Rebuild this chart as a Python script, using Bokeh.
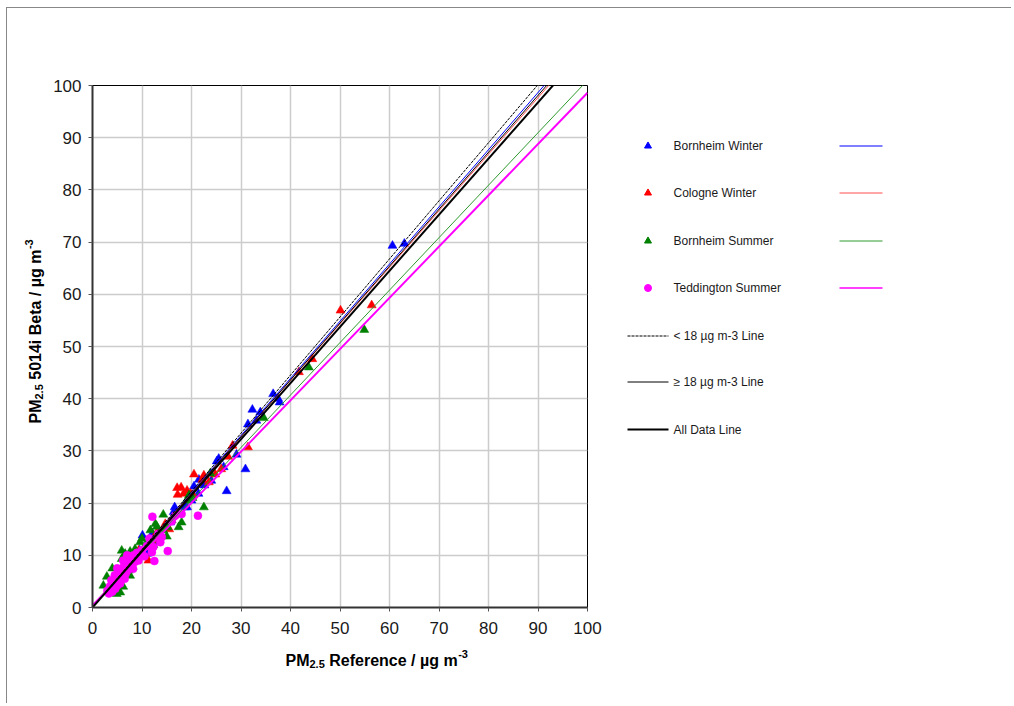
import math
from bokeh.plotting import figure
from bokeh.models import Range1d, FixedTicker
from bokeh.layouts import row, column
from bokeh.embed import file_html
from bokeh.resources import INLINE
from bokeh.core.properties import value

FONT = "Liberation Sans"

# ---------------- data ----------------
series_names = ["Bornheim Winter", "Cologne Winter", "Bornheim Summer", "Teddington Summer"]
series_colors = ["#0000ff", "#ff0000", "#008000", "#ff00ff"]
line_colors = ["#0000ff", "#ff4c4c", "#2e9a2e", "#ff00ff"]
series_markers = ["triangle", "triangle", "triangle", "circle"]

# Bornheim Winter
bw_x = [60.6, 63.0, 36.5, 37.5, 37.8, 32.3, 33.9, 33.1, 31.4, 25.5, 25.1, 29.1, 26.5, 30.9,
        27.1, 21.5, 22.6, 20.5, 19.8, 16.6, 19.1, 21.4, 10.1, 11.0, 12.1, 15.7, 16.4, 18.7,
        12.5, 13.5, 9.5, 24.0, 20.0]
bw_y = [69.3, 69.7, 40.9, 40.0, 39.3, 37.9, 37.4, 35.8, 35.1, 28.5, 28.0, 29.3, 26.9, 26.5,
        22.3, 24.5, 23.4, 23.2, 21.1, 19.2, 19.2, 21.8, 13.8, 10.3, 14.2, 16.3, 18.3, 19.2,
        12.5, 13.0, 11.0, 24.3, 20.5]

# Cologne Winter
cw_x = [50.1, 56.4, 44.4, 41.7, 28.3, 31.4, 27.4, 20.5, 22.5, 24.8, 22.2, 17.1, 17.9, 17.2,
        19.1, 19.8, 20.3, 18.4, 9.3, 11.3, 13.0, 13.3, 14.7, 15.5, 12.0, 23.5, 26.0]
cw_y = [56.9, 57.9, 47.6, 45.1, 31.0, 30.7, 28.9, 25.5, 25.3, 25.5, 24.5, 22.9, 23.0, 21.6,
        22.4, 21.8, 21.5, 21.8, 10.9, 9.0, 14.4, 13.2, 16.0, 15.0, 12.8, 24.0, 26.5]

# Bornheim Summer
bs_x = [54.9, 43.7, 34.6, 23.8, 19.5, 22.5, 14.3, 17.4, 18.0, 16.0, 15.2, 12.7, 11.7, 13.7,
        15.0, 14.3, 10.0, 9.6, 11.0, 8.6, 5.9, 6.6, 7.6, 5.9, 6.6, 2.9, 2.2, 7.3, 7.6, 5.6,
        4.9, 5.9, 8.1, 9.0, 12.3, 10.5, 13.0, 4.0, 6.2, 19.0, 20.2]
bs_y = [53.2, 46.0, 36.3, 25.7, 21.5, 19.2, 17.8, 15.4, 16.3, 16.7, 15.4, 16.0, 14.8, 14.1,
        13.6, 14.8, 13.2, 12.5, 12.5, 11.2, 10.9, 10.3, 10.7, 9.3, 8.4, 5.9, 4.2, 7.1, 6.1, 2.9,
        2.6, 5.8, 7.7, 9.6, 12.0, 11.5, 15.5, 7.5, 4.0, 20.5, 21.0]

# Teddington Summer
ts_x = [12.1, 21.3, 18.0, 16.7, 13.3, 11.5, 13.7, 15.2, 12.0, 12.5, 3.0, 3.5, 4.0, 4.2, 4.8,
        5.0, 5.2, 5.5, 5.8, 6.0, 6.3, 6.5, 6.8, 7.0, 7.3, 7.5, 7.8, 8.0, 8.3, 8.5, 8.8, 9.0,
        9.3, 9.5, 4.5, 3.8, 5.0, 6.2, 7.0, 4.6, 5.6, 3.3, 10.0, 11.0, 10.5, 12.3, 14.0, 16.0,
        6.7, 8.2]
ts_y = [17.4, 17.6, 17.9, 17.6, 14.1, 13.2, 12.5, 10.8, 10.6, 8.9, 3.2, 4.0, 3.0, 4.8, 5.5,
        4.2, 6.5, 5.0, 7.2, 6.0, 7.8, 5.5, 8.2, 7.0, 8.8, 9.5, 8.0, 9.2, 10.0, 8.7, 9.8, 10.5,
        9.0, 10.2, 6.2, 5.2, 7.5, 9.0, 10.0, 3.6, 4.6, 2.7, 11.0, 11.8, 9.8, 11.6, 13.5, 16.5,
        6.5, 7.4]

series_x = [bw_x, cw_x, bs_x, ts_x]
series_y = [bw_y, cw_y, bs_y, ts_y]

# regression lines per series (slope, intercept)
fit_slope = [1.095, 1.083, 1.005, 0.982]
fit_icpt = [0.1, 0.2, 0.5, 0.4]

# reference lines
ref_names = ["< 18 \u00b5g m-3 Line", "\u2265 18 \u00b5g m-3 Line", "All Data Line"]
ref_slope = [1.113, 1.09, 1.075]
ref_icpt = [0.0, 0.0, 0.0]
ref_dash = ["3 1", "solid", "solid"]
ref_width = [1, 1, 2]

x_ticks = list(range(0, 101, 10))
y_ticks = list(range(0, 101, 10))

# axis titles: (text, gap before it in em of the base font)
x_label_parts = ["PM", "2.5", "Reference / \u00b5g m", "-3"]
y_label_parts = ["PM", "2.5", "5014i Beta / \u00b5g m", "-3"]
label_gaps = [0, 0, 0.278, 0]

# ---------------- layout constants (page pixels) ----------------
LEFT0, TOP0 = 7, 8          # content origin inside the border
YLAB_W = 40
MAIN_W = 560
LEG_W = 404
TOP_B, BOT_B = 77, 36
ROW_H = 635
XLAB_H = 60
FR_TOP = TOP0 + TOP_B               # 85
FR_BOT = TOP0 + ROW_H - BOT_B       # 607


def bold_w(s, size):
    w = {"P": .667, "M": .833, "2": .556, ".": .278, "5": .556, " ": .278, "R": .722, "e": .556,
         "f": .333, "r": .389, "n": .611, "c": .556, "/": .278, "\u00b5": .611, "g": .611,
         "m": .889, "-": .333, "3": .556, "0": .556, "1": .556, "4": .556, "i": .278, "B": .722,
         "t": .333, "a": .556}
    return sum(w.get(ch, .556) for ch in s) * size


def blank(width, height, x0, x1, y0, y1, **kw):
    f = figure(width=width, height=height, x_range=Range1d(x0, x1), y_range=Range1d(-y1, -y0),
               output_backend="svg", toolbar_location=None, x_axis_type=None, y_axis_type=None,
               **kw)
    f.grid.visible = False
    f.outline_line_color = None
    f.background_fill_color = "white"
    f.border_fill_color = "white"
    return f


# ---------------- main figure ----------------
p = figure(width=MAIN_W, height=ROW_H, x_range=Range1d(0, 100), y_range=Range1d(0, 100),
           output_backend="svg", toolbar_location=None,
           min_border_left=45, min_border_right=20, min_border_top=TOP_B, min_border_bottom=BOT_B)
p.background_fill_color = "white"
p.border_fill_color = "white"
p.outline_line_color = "black"
p.outline_line_width = 1

for ax, ticks in ((p.xaxis, x_ticks), (p.yaxis, y_ticks)):
    ax.ticker = FixedTicker(ticks=ticks)
    ax.minor_tick_line_color = None
    ax.major_tick_in = 0
    ax.major_tick_out = 4
    ax.axis_line_color = "#333333"
    ax.axis_line_width = 2
    ax.major_tick_line_color = "#555555"
    ax.major_label_text_font = FONT
    ax.major_label_text_font_size = "17px"
    ax.major_label_text_color = "#1a1a1a"
p.xaxis.major_label_standoff = 10
p.yaxis.major_label_standoff = 7

p.grid.grid_line_color = "#cccccc"
p.grid.grid_line_width = 1.5

for xs, ys, c, m in zip(series_x, series_y, series_colors, series_markers):
    p.scatter(xs, ys, marker=m, size=(9 if m == "triangle" else 8),
              fill_color=c, line_color=c, line_width=0.5)

for m_, b_, c in zip(fit_slope, fit_icpt, line_colors):
    p.line([0, 100], [b_, m_ * 100 + b_], line_color=c,
           line_width=(2 if c == "#ff00ff" else 1))

for m_, b_, d, w in zip(ref_slope, ref_icpt, ref_dash, ref_width):
    p.line([0, 100], [b_, m_ * 100 + b_], line_color="black", line_width=w, line_dash=d)

sizes = [16, 11, 16, 11]
shifts = [0, 3.5, 0, -6.5]

# ---------------- y-axis title figure ----------------
ylab = blank(YLAB_W, ROW_H, LEFT0, LEFT0 + YLAB_W, FR_TOP, FR_BOT,
             min_border_left=0, min_border_right=0, min_border_top=TOP_B, min_border_bottom=BOT_B)
cy = 423
basex = 35
for part, sz, sh, gap in zip(y_label_parts, sizes, shifts, label_gaps):
    cy -= gap * sz
    ylab.text([basex + sh], [-cy], text=[part], angle=math.pi / 2, text_font=value(FONT),
              text_font_size=f"{sz}px", text_font_style="bold", text_color="#000000",
              text_baseline="alphabetic", text_align="left")
    cy -= bold_w(part, sz)

# ---------------- legend figure ----------------
LX0 = LEFT0 + YLAB_W + MAIN_W
leg = blank(LEG_W, ROW_H, LX0, LX0 + LEG_W, FR_TOP, FR_BOT,
            min_border_left=0, min_border_right=0, min_border_top=TOP_B, min_border_bottom=BOT_B)

row_y = [145.5, 192.5, 240.5, 287.5]
for yy, name, c, lc, m in zip(row_y, series_names, series_colors, line_colors, series_markers):
    leg.scatter([647.5], [-yy], marker=m, size=7, fill_color=c, line_color=c)
    leg.text([673], [-yy], text=[name], text_font=value(FONT), text_font_size="12px",
             text_baseline="middle", text_color="#1a1a1a")
    leg.line([839, 882], [-yy, -yy], line_color=lc, line_width=(1.5 if c == "#ff00ff" else 1))

ref_y = [335.5, 381.5, 429]
for yy, name, d, w in zip(ref_y, ref_names, ref_dash, ref_width):
    leg.line([627, 668], [-yy, -yy], line_color="black", line_width=w, line_dash=d)
    leg.text([673], [-yy], text=[name], text_font=value(FONT), text_font_size="12px",
             text_baseline="middle", text_color="#1a1a1a")

# ---------------- x-axis title figure ----------------
XT = TOP0 + ROW_H
TOTAL_W = YLAB_W + MAIN_W + LEG_W
xlab = blank(TOTAL_W, XLAB_H, LEFT0, LEFT0 + TOTAL_W, XT, XT + XLAB_H, min_border=0)
cx = 285
base = 660
for part, sz, sh, gap in zip(x_label_parts, sizes, shifts, label_gaps):
    cx += gap * sz
    xlab.text([cx], [-(base + sh)], text=[part], text_font=value(FONT),
              text_font_size=f"{sz}px", text_font_style="bold", text_color="#000000",
              text_baseline="alphabetic", text_align="left")
    cx += bold_w(part, sz)

layout = column(row(ylab, p, leg), xlab)
layout.margin = (7, 0, 0, 6)
layout.styles = {"border-top": "1px solid #888888", "border-left": "1px solid #888888"}

open("out.html", "w").write(file_html(layout, INLINE))
